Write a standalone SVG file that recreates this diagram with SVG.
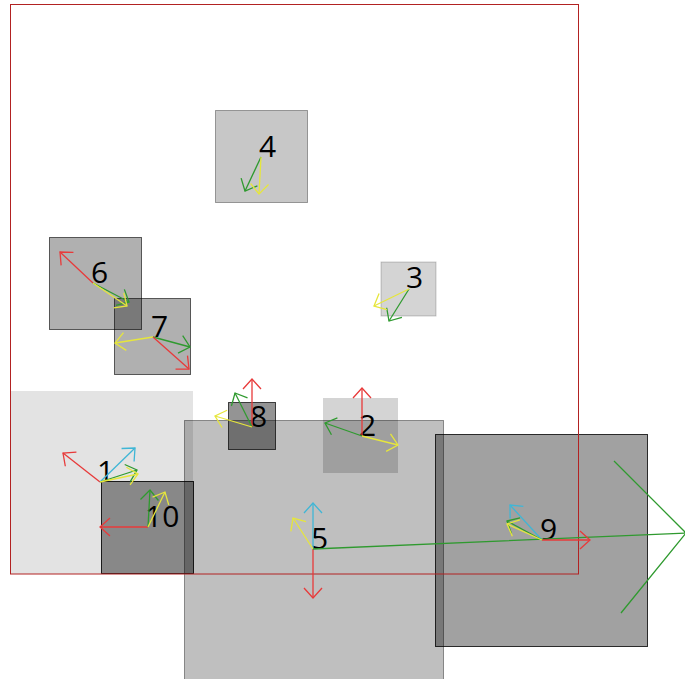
<svg xmlns="http://www.w3.org/2000/svg" width="685" height="679" viewBox="0 0 685 679">
<style>
.box{fill:#000}
.lbl{font-family:"Open Sans","Noto Sans","DejaVu Sans",sans-serif;font-size:30px;fill:#000}
.a{fill:none;stroke-width:1.3}
.r{stroke:#e83a3a;marker-end:url(#mr)}
.g{stroke:#2f9a2f;marker-end:url(#mg)}
.y{stroke:#e6e63c;marker-end:url(#my)}
.c{stroke:#3fb6d6;marker-end:url(#mc)}
</style>
<defs>
<marker id="mr" markerUnits="userSpaceOnUse" orient="auto" refX="0" refY="0" markerWidth="20" markerHeight="20" overflow="visible"><path d="M-10,-9 L0,0 L-10,9" fill="none" stroke="#e83a3a" stroke-width="1.3"/></marker>
<marker id="mg" markerUnits="userSpaceOnUse" orient="auto" refX="0" refY="0" markerWidth="20" markerHeight="20" overflow="visible"><path d="M-10,-9 L0,0 L-10,9" fill="none" stroke="#2f9a2f" stroke-width="1.3"/></marker>
<marker id="my" markerUnits="userSpaceOnUse" orient="auto" refX="0" refY="0" markerWidth="20" markerHeight="20" overflow="visible"><path d="M-10,-9 L0,0 L-10,9" fill="none" stroke="#e6e63c" stroke-width="1.3"/></marker>
<marker id="mc" markerUnits="userSpaceOnUse" orient="auto" refX="0" refY="0" markerWidth="20" markerHeight="20" overflow="visible"><path d="M-10,-9 L0,0 L-10,9" fill="none" stroke="#3fb6d6" stroke-width="1.3"/></marker>
</defs>
<rect x="0" y="0" width="685" height="679" fill="#fff"/>

<g id="node1"><rect class="box" x="10" y="391" width="183" height="183" fill-opacity="0.11"/></g>
<g id="node2"><rect class="box" x="323" y="398" width="75" height="75" fill-opacity="0.17"/></g>
<g id="node3"><rect class="box" x="381" y="262" width="55" height="54" fill-opacity="0.17" stroke="#000" stroke-opacity="0.2"/></g>
<g id="node4"><rect class="box" x="215.5" y="110.5" width="92" height="92" fill-opacity="0.22" stroke="#000" stroke-opacity="0.35"/></g>
<g id="node6"><rect class="box" x="49.5" y="237.5" width="92" height="92" fill-opacity="0.31" stroke="#000" stroke-opacity="0.6"/></g>
<g id="node7"><rect class="box" x="114.5" y="298.5" width="76" height="76" fill-opacity="0.31" stroke="#000" stroke-opacity="0.6"/></g>
<g id="node8"><rect class="box" x="228.5" y="402.5" width="47" height="47" fill-opacity="0.42" stroke="#000" stroke-opacity="0.7"/></g>
<g id="node5"><rect class="box" x="184.5" y="420.5" width="259" height="260" fill-opacity="0.25" stroke="#000" stroke-opacity="0.4"/></g>
<g id="node10"><rect class="box" x="101.5" y="481.5" width="92" height="92" fill-opacity="0.4" stroke="#000" stroke-opacity="0.85"/></g>
<g id="node9"><rect class="box" x="435.5" y="434.5" width="212" height="212" fill-opacity="0.37" stroke="#000" stroke-opacity="0.8"/></g>

<rect x="10.5" y="4.5" width="568" height="569.5" fill="none" stroke="#b22222" stroke-width="1"/>

<g id="labels">
<text class="lbl" x="259" y="157">4</text>
<text class="lbl" x="91" y="283">6</text>
<text class="lbl" x="151" y="337">7</text>
<text class="lbl" x="406" y="288">3</text>
<text class="lbl" x="250" y="427">8</text>
<text class="lbl" x="359" y="436">2</text>
<text class="lbl" x="97" y="482">1</text>
<text class="lbl" x="145" y="527">10</text>
<text class="lbl" x="311" y="549">5</text>
<text class="lbl" x="540" y="540">9</text>
</g>

<g id="connectors">
<path class="a g" d="M261,157 L245,191"/>
<path class="a y" d="M261,157 L259,194"/>

<path class="a r" d="M93,283 L60,252"/>
<path class="a g" d="M93,283 L129,302"/>
<path class="a y" d="M93,283 L127,306"/>

<path class="a y" d="M153,337 L115,343"/>
<path class="a g" d="M153,337 L190,347"/>
<path class="a r" d="M153,337 L189,369"/>

<path class="a g" d="M409,289 L389,321"/>
<path class="a y" d="M409,289 L374,306"/>

<path class="a r" d="M252,427 L252,379"/>
<path class="a g" d="M252,427 L235,393"/>
<path class="a y" d="M252,427 L215,416"/>

<path class="a r" d="M362,436 L362,388"/>
<path class="a g" d="M362,436 L325,423"/>
<path class="a y" d="M362,436 L398,445"/>

<path class="a r" d="M100,482 L63,453"/>
<path class="a c" d="M100,482 L135,448"/>
<path class="a g" d="M100,482 L137,470"/>
<path class="a y" d="M100,482 L138,474"/>

<path class="a r" d="M148,527 L100,527"/>
<path class="a g" d="M148,527 L150,490"/>
<path class="a y" d="M148,527 L165,492"/>

<path class="a c" d="M313,549 L313,503"/>
<path class="a y" d="M313,549 L293,518"/>
<path class="a r" d="M313,549 L313,598"/>
<path class="a" stroke="#2f9a2f" d="M313,549 L686,533 M614,461 L686,533 L621,613"/>

<path class="a r" d="M542,540 L590,540"/>
<path class="a c" d="M542,540 L510,505"/>
<path class="a g" d="M542,540 L507,521"/>
<path class="a y" d="M542,540 L507,524"/>
</g>
</svg>
